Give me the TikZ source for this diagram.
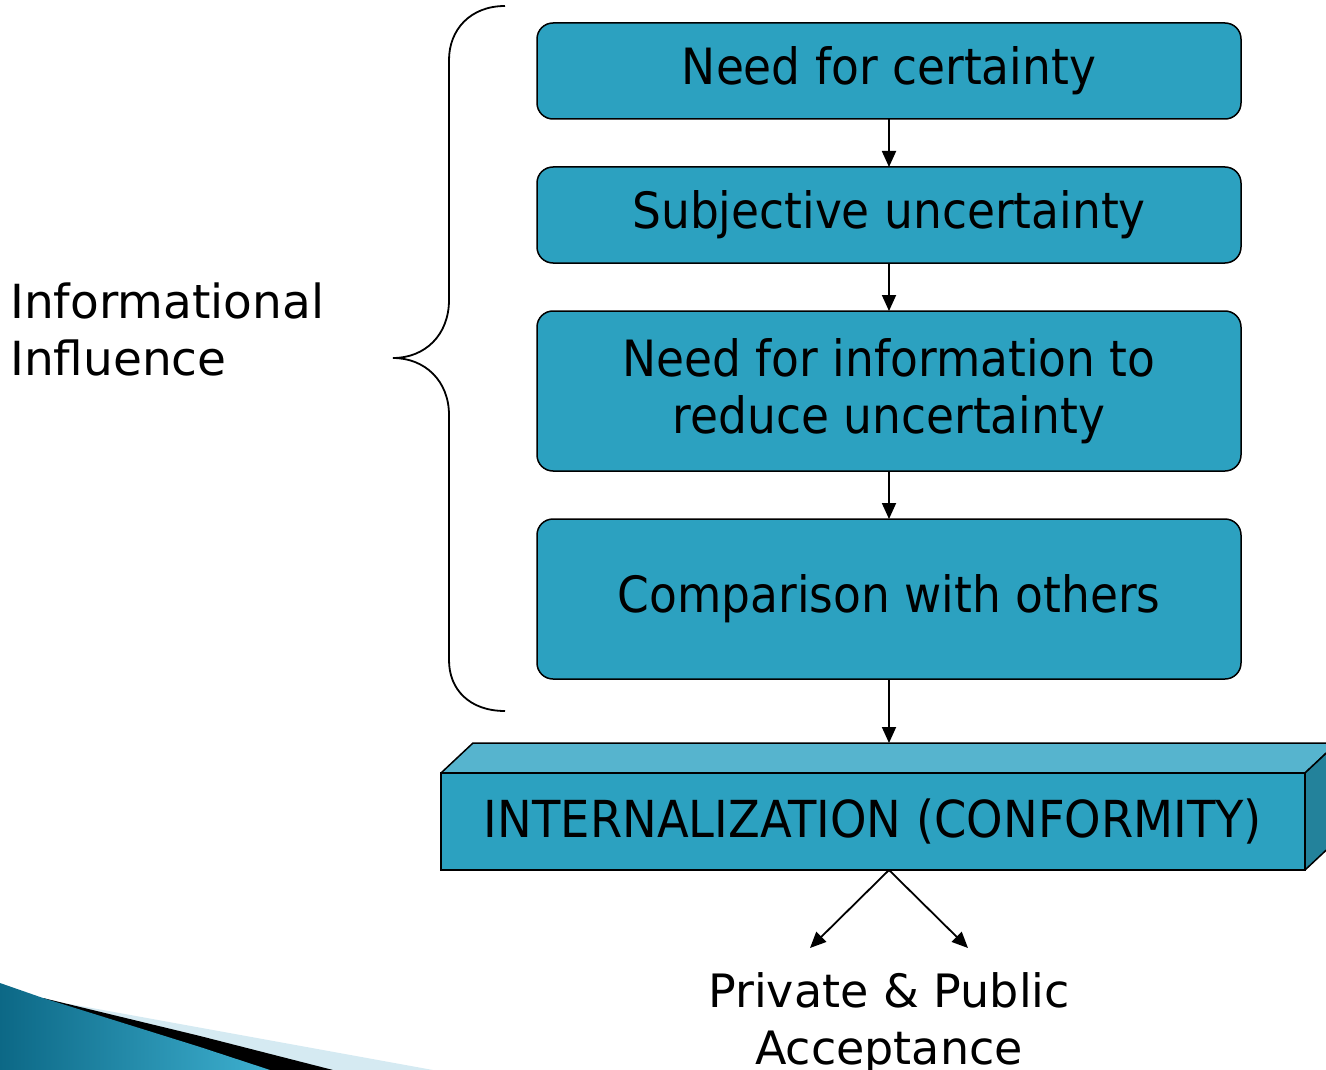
\documentclass[tikz,border=0pt]{standalone}
\usepackage{fontspec}
\setmainfont{DejaVu Sans}
\newfontfamily\boxfont[FakeStretch=0.91]{DejaVu Sans}
\usetikzlibrary{positioning, calc, arrows.meta}

\definecolor{boxblue}{RGB}{44,161,192}
\definecolor{boxtop}{RGB}{86,180,206}
\definecolor{boxside}{RGB}{35,130,155}
\definecolor{swooshdark}{RGB}{12,104,134}
\definecolor{swooshlight}{RGB}{62,176,208}
\definecolor{swooshpale}{RGB}{213,234,242}

\tikzset{
  stepbox/.style={draw, line width=1.5pt, rounded corners=16pt, fill=boxblue,
    minimum width=704pt, align=center, inner sep=0pt, outer sep=0pt,
    font=\boxfont\fontsize{50}{57}\selectfont},
  flow/.style={line width=1.8pt, -{Triangle[length=16pt,width=14pt]}},
  sidetext/.style={align=left, inner sep=0pt, font=\fontsize{47}{57}\selectfont}
}

\begin{document}
\begin{tikzpicture}[x=1pt, y=-1pt]
  \useasboundingbox (0,0) rectangle (1326,1070);
  \clip (0,0) rectangle (1326,1070);

  % corner swoosh
  \fill[swooshpale] (70,1004) -- (433,1070) -- (0,1070) -- cycle;
  \fill[black] (43,998) -- (200,1036) -- (333,1070) -- (0,1070) -- cycle;
  \shade[left color=swooshdark, right color=swooshlight]
    (0,983) -- (43,998) -- (200,1047) -- (270,1070) -- (0,1070) -- cycle;

  % steps
  \node[stepbox, minimum height=96pt] (certainty) at (889,71) {Need for certainty};
  \node[stepbox, minimum height=96pt, below=48pt of certainty] (subjective) {Subjective uncertainty};
  \node[stepbox, minimum height=160pt, below=48pt of subjective] (information) {Need for information to\\reduce uncertainty};
  \node[stepbox, minimum height=160pt, below=48pt of information] (comparison) {Comparison with others};

  % internalization block
  \coordinate (intTop) at (889,743);
  \filldraw[fill=boxtop, line width=1.5pt, line join=round]
    (441,773) -- (473,743) -- (1337,743) -- (1305,773) -- cycle;
  \filldraw[fill=boxside, line width=1.5pt, line join=round]
    (1305,773) -- (1337,743) -- (1337,840) -- (1305,870) -- cycle;
  \node[draw, fill=boxblue, line width=1.5pt, minimum width=864pt, minimum height=97pt,
    inner sep=0pt, outer sep=0pt, font=\boxfont\fontsize{51}{57}\selectfont] (internal) at (873,821.5)
    {INTERNALIZATION (CONFORMITY)};

  \draw[flow] (certainty) -- (subjective);
  \draw[flow] (subjective) -- (information);
  \draw[flow] (information) -- (comparison);
  \draw[flow] (comparison) -- (intTop);

  % outcome
  \coordinate (fork) at (internal.south -| intTop);
  \coordinate (leftTip) at (810,948);
  \coordinate (rightTip) at (968,948);
  \draw[flow] (fork) -- (leftTip);
  \draw[flow] (fork) -- (rightTip);
  \node[sidetext, align=center, font=\fontsize{46}{57}\selectfont] (acceptance) at (889,1023) {Private \& Public\\Acceptance};

  % brace
  \node[sidetext, anchor=west] (informational) at (10,329) {Informational\\Influence};
  \draw[line width=1.8pt]
    (505,6) .. controls (470,6) and (449,30) .. (449,60) -- (449,300)
    .. controls (449,335) and (425,358) .. (393,358)
    .. controls (425,358) and (449,381) .. (449,415) -- (449,660)
    .. controls (449,690) and (470,711) .. (505,711);
\end{tikzpicture}
\end{document}
